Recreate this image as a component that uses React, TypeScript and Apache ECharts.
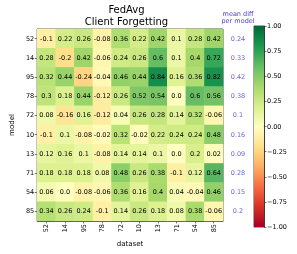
import React, { useEffect, useRef } from "react";
import * as echarts from "echarts";

const models = ["52", "14", "95", "78", "72", "10", "13", "71", "54", "85"];
const datasets = ["52", "14", "95", "78", "72", "10", "13", "71", "54", "85"];

const row52 = [-0.1, 0.22, 0.26, -0.08, 0.36, 0.22, 0.42, 0.1, 0.28, 0.42];
const row14 = [0.28, -0.2, 0.42, -0.06, 0.24, 0.26, 0.6, 0.1, 0.4, 0.72];
const row95 = [0.32, 0.44, -0.24, -0.04, 0.46, 0.44, 0.84, 0.16, 0.36, 0.82];
const row78 = [0.3, 0.18, 0.44, -0.12, 0.26, 0.52, 0.54, 0.0, 0.6, 0.56];
const row72 = [0.08, -0.16, 0.16, -0.12, 0.04, 0.26, 0.28, 0.14, 0.32, -0.06];
const row10 = [-0.1, 0.1, -0.08, -0.02, 0.32, -0.02, 0.22, 0.24, 0.24, 0.48];
const row13 = [0.12, 0.16, 0.1, -0.08, 0.14, 0.14, 0.1, 0.0, 0.2, 0.02];
const row71 = [0.18, 0.18, 0.18, 0.08, 0.48, 0.26, 0.38, -0.1, 0.12, 0.64];
const row54 = [0.06, 0.0, -0.08, -0.06, 0.36, 0.16, 0.4, 0.04, -0.04, 0.46];
const row85 = [0.34, 0.26, 0.24, -0.1, 0.14, 0.26, 0.18, 0.08, 0.38, -0.06];
const rows = [row52, row14, row95, row78, row72, row10, row13, row71, row54, row85];

const meanDiff = [0.24, 0.33, 0.42, 0.38, 0.1, 0.16, 0.09, 0.28, 0.15, 0.2];

const RdYlGn = ["#a50026", "#d73027", "#f46d43", "#fdae61", "#fee08b", "#ffffbf", "#d9ef8b", "#a6d96a", "#66bd63", "#1a9850", "#006837"];

const FONT = "DejaVu Sans";
const MEAN_COLOR = "#4a3cc8";

const fmt = (v: number) => (v === 0 ? "0.0" : String(v));

export default function App() {
  const ref = useRef<HTMLDivElement>(null);
  useEffect(() => {
    if (!ref.current) return;
    const chart = echarts.init(ref.current, undefined, { renderer: "svg" });
    const heat: any[] = [];
    rows.forEach((r, yi) => r.forEach((v, xi) => heat.push([xi, yi, v])));
    const meanData = meanDiff.map((v, i) => [0, i, v]);

    const gridH = { left: 30, right: 74, top: 29, bottom: 33 };
    chart.setOption({
      animation: false,
      textStyle: { fontFamily: FONT },
      title: [
        {
          text: "FedAvg\nClient Forgetting",
          left: 126.5,
          top: 3,
          padding: 0,
          textAlign: "center",
          textStyle: { fontFamily: FONT, fontSize: 10, fontWeight: "normal", color: "#000", lineHeight: 12 },
        },
        {
          text: "mean diff\nper model",
          left: 238,
          top: 10,
          padding: 0,
          textAlign: "center",
          textStyle: { fontFamily: FONT, fontSize: 6.5, fontWeight: "normal", color: MEAN_COLOR, lineHeight: 7.5 },
        },
      ],
      grid: [
        { ...gridH, show: true, borderColor: "#222", borderWidth: 0.8, backgroundColor: "transparent" },
        { left: 226, width: 24, top: 29, bottom: 33 },
        { left: 254, width: 10, top: 26, bottom: 27, show: true, borderColor: "#222", borderWidth: 0.8, backgroundColor: "transparent" },
      ],
      xAxis: [
        {
          type: "category",
          gridIndex: 0,
          data: datasets,
          name: "dataset",
          nameLocation: "middle",
          nameGap: 19,
          nameTextStyle: { fontFamily: FONT, fontSize: 7, color: "#000" },
          axisLine: { show: true, lineStyle: { color: "#222", width: 0.8 } },
          axisTick: { show: true, alignWithLabel: true, length: 2.5, lineStyle: { color: "#222", width: 0.6 } },
          axisLabel: { rotate: 90, fontSize: 6.5, color: "#000", margin: 3, fontFamily: FONT },
          splitLine: { show: false },
        },
        { type: "category", gridIndex: 1, data: ["mean"], show: false },
        { type: "category", gridIndex: 2, data: ["cb"], show: false },
      ],
      yAxis: [
        {
          type: "category",
          gridIndex: 0,
          data: models,
          inverse: true,
          name: "model",
          nameLocation: "middle",
          nameGap: 17,
          nameRotate: 90,
          nameTextStyle: { fontFamily: FONT, fontSize: 7, color: "#000" },
          axisLine: { show: true, lineStyle: { color: "#222", width: 0.8 } },
          axisTick: { show: true, alignWithLabel: true, length: 2.5, lineStyle: { color: "#222", width: 0.6 } },
          axisLabel: { fontSize: 6.5, color: "#000", margin: 3, fontFamily: FONT },
          splitLine: { show: false },
        },
        { type: "category", gridIndex: 1, data: models, inverse: true, show: false },
        {
          type: "value",
          gridIndex: 2,
          min: -1,
          max: 1,
          interval: 0.25,
          position: "right",
          axisLine: { show: true, lineStyle: { color: "#222", width: 0.8 } },
          axisTick: { show: true, length: 2.5, lineStyle: { color: "#222", width: 0.6 } },
          axisLabel: {
            fontSize: 6.5,
            color: "#000",
            margin: 3,
            fontFamily: FONT,
            formatter: (v: number) => v.toFixed(2).replace("-", "\u2212"),
          },
          splitLine: { show: false },
        },
      ],
      visualMap: {
        show: false,
        type: "continuous",
        min: -1,
        max: 1,
        seriesIndex: 0,
        dimension: 2,
        inRange: { color: RdYlGn },
      },
      series: [
        {
          type: "heatmap",
          xAxisIndex: 0,
          yAxisIndex: 0,
          data: heat,
          label: {
            show: true,
            fontSize: 6.5,
            color: "#000",
            fontFamily: FONT,
            formatter: (p: any) => fmt(p.value[2]),
          },
          emphasis: { disabled: true },
        },
        {
          type: "scatter",
          xAxisIndex: 1,
          yAxisIndex: 1,
          data: meanData,
          symbolSize: 0,
          label: {
            show: true,
            position: "inside",
            fontSize: 6.5,
            color: MEAN_COLOR,
            fontFamily: FONT,
            formatter: (p: any) => fmt(p.value[2]),
          },
        },
        {
          type: "bar",
          xAxisIndex: 2,
          yAxisIndex: 2,
          stack: "cb",
          barWidth: "100%",
          data: [1],
          itemStyle: {
            color: new echarts.graphic.LinearGradient(0, 0, 0, 1, [
              { offset: 0, color: RdYlGn[10] },
              { offset: 0.2, color: RdYlGn[9] },
              { offset: 0.4, color: RdYlGn[8] },
              { offset: 0.6, color: RdYlGn[7] },
              { offset: 0.8, color: RdYlGn[6] },
              { offset: 1, color: RdYlGn[5] },
            ]),
          },
        },
        {
          type: "bar",
          xAxisIndex: 2,
          yAxisIndex: 2,
          stack: "cb",
          barWidth: "100%",
          data: [-1],
          itemStyle: {
            color: new echarts.graphic.LinearGradient(0, 0, 0, 1, [
              { offset: 0, color: RdYlGn[5] },
              { offset: 0.2, color: RdYlGn[4] },
              { offset: 0.4, color: RdYlGn[3] },
              { offset: 0.6, color: RdYlGn[2] },
              { offset: 0.8, color: RdYlGn[1] },
              { offset: 1, color: RdYlGn[0] },
            ]),
          },
        },
      ],
    });
    return () => chart.dispose();
  }, []);
  return <div ref={ref} style={{ position: "fixed", left: 0, top: 0, width: 297, height: 254 }} />;
}
